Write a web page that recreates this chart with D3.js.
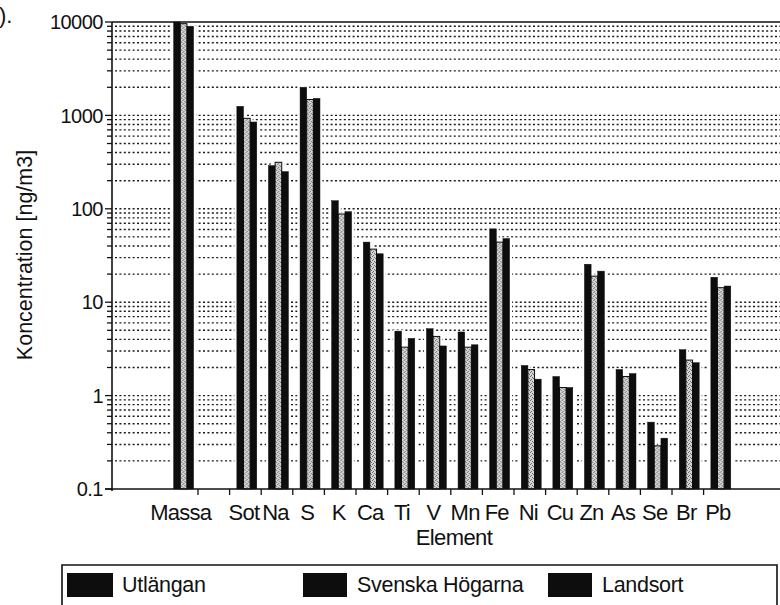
<!DOCTYPE html>
<html>
<head>
<meta charset="utf-8">
<script src="https://cdn.jsdelivr.net/npm/d3@7"></script>
<style>
  html, body { margin: 0; padding: 0; background: #fff; }
  svg { display: block; }
  text { font-family: "Liberation Sans", Arial, Helvetica, sans-serif; fill: #111; }
</style>
</head>
<body>
<svg id="chart" width="780" height="605"></svg>
<script>
// Categories along the x axis ("" is the empty slot between Massa and Sot)
const categories = ["Massa", "", "Sot", "Na", "S", "K", "Ca", "Ti", "V", "Mn", "Fe", "Ni", "Cu", "Zn", "As", "Se", "Br", "Pb"];
const seriesNames = ["Utlängan", "Svenska Högarna", "Landsort"];

// Concentrations in ng/m3 per station
const utlangan = [10000, null, 1250, 290, 2000, 122, 44, 4.9, 5.2, 4.8, 61, 2.1, 1.6, 25.5, 1.9, 0.52, 3.1, 18.5];
const hogarna  = [9600,  null, 930,  315, 1480, 88,  37, 3.3, 4.3, 3.3, 44, 1.9, 1.22, 19, 1.6, 0.29, 2.4, 14.3];
const landsort = [9000,  null, 850,  250, 1520, 93,  33, 4.1, 3.4, 3.5, 48, 1.5, 1.22, 21.5, 1.72, 0.35, 2.25, 14.9];

const yTickValues = [0.1, 1, 10, 100, 1000, 10000];
const yTickLabels = ["0.1", "1", "10", "100", "1000", "10000"];

const seriesValues = [utlangan, hogarna, landsort];

const svg = d3.select("#chart");

// Patterned fill for the middle series
const defs = svg.append("defs");
const pat = defs.append("pattern")
  .attr("id", "stipple").attr("patternUnits", "userSpaceOnUse")
  .attr("width", 4).attr("height", 4);
pat.append("rect").attr("width", 4).attr("height", 4).attr("fill", "#d6d6d6");
[[0, 0], [2, 1], [1, 3], [3, 2]].forEach(([px, py]) =>
  pat.append("rect").attr("x", px).attr("y", py).attr("width", 1).attr("height", 1).attr("fill", "#6a6a6a"));

const plot = { left: 112, right: 790, top: 22, bottom: 489 };

const y = d3.scaleLog().domain([0.1, 10000]).range([plot.bottom, plot.top]);
const x = d3.scaleBand().domain(d3.range(categories.length)).range([166.4, 735.2]).padding(0);
const bw = x.bandwidth();
const inner = d3.scaleBand().domain(d3.range(seriesNames.length))
  .range([0.23 * bw, 0.86 * bw]).padding(0);

// Dotted grid at every log tick
const gridVals = [];
for (let e = -1; e < 4; e++) {
  for (let m = 1; m <= 9; m++) gridVals.push(m * Math.pow(10, e));
}
svg.append("g").selectAll("line").data(gridVals.filter(v => v > 0.1)).join("line")
  .attr("x1", plot.left + 3).attr("x2", plot.right)
  .attr("y1", d => y(d)).attr("y2", d => y(d))
  .attr("stroke", "#1a1a1a").attr("stroke-width", 1.4)
  .attr("stroke-dasharray", "2 2.4");

// Y-axis tick marks
svg.append("g").selectAll("line").data(gridVals.concat([10000])).join("line")
  .attr("x1", d => yTickValues.includes(d) ? plot.left - 7 : plot.left - 5)
  .attr("x2", plot.left)
  .attr("y1", d => y(d)).attr("y2", d => y(d))
  .attr("stroke", "#111").attr("stroke-width", 1.3);

// Bars, with a white halo that interrupts the grid
const groups = svg.append("g").selectAll("g")
  .data(categories.map((c, i) => i)).join("g")
  .attr("transform", i => `translate(${x(i)},0)`);

seriesValues.forEach((vals, s) => {
  groups.filter(i => vals[i] != null).append("rect")
    .attr("x", i => inner(s) - 2.5)
    .attr("y", i => y(vals[i]) - 1)
    .attr("width", inner.bandwidth() + 5)
    .attr("height", i => plot.bottom - y(vals[i]) + 1)
    .attr("fill", "#fff");
});
seriesValues.forEach((vals, s) => {
  groups.filter(i => vals[i] != null).append("rect")
    .attr("x", i => inner(s))
    .attr("y", i => y(vals[i]))
    .attr("width", inner.bandwidth())
    .attr("height", i => plot.bottom - y(vals[i]))
    .attr("fill", s === 1 ? "url(#stipple)" : "#0d0d0d")
    .attr("stroke", "#0d0d0d")
    .attr("stroke-width", s === 1 ? 1 : 0.5);
});

// Frame: top edge, y axis, x axis
svg.append("line").attr("x1", plot.left).attr("x2", plot.right)
  .attr("y1", plot.top).attr("y2", plot.top).attr("stroke", "#111").attr("stroke-width", 1.6);
svg.append("line").attr("x1", plot.left).attr("x2", plot.left)
  .attr("y1", plot.top).attr("y2", plot.bottom + 2).attr("stroke", "#111").attr("stroke-width", 1.6);
svg.append("line").attr("x1", plot.left - 7).attr("x2", plot.right)
  .attr("y1", plot.bottom).attr("y2", plot.bottom).attr("stroke", "#111").attr("stroke-width", 1.6);

// X-axis tick marks at the left edge of each slot after Massa
svg.append("g").selectAll("line").data(d3.range(1, categories.length)).join("line")
  .attr("x1", i => x(i)).attr("x2", i => x(i))
  .attr("y1", plot.bottom).attr("y2", plot.bottom + 6)
  .attr("stroke", "#111").attr("stroke-width", 1.3);

// Y tick labels
svg.append("g").selectAll("text").data(yTickValues).join("text")
  .attr("x", plot.left - 9).attr("y", d => y(d))
  .attr("dy", "0.36em").attr("text-anchor", "end")
  .attr("font-size", 20).attr("letter-spacing", -0.5)
  .text((d, i) => yTickLabels[i]);

// Category labels
svg.append("g").selectAll("text").data(d3.range(categories.length)).join("text")
  .attr("x", i => x(i) + bw / 2 - 1.5).attr("y", 520)
  .attr("text-anchor", "middle").attr("font-size", 22).attr("letter-spacing", -0.8)
  .text(i => categories[i]);

// Axis titles
svg.append("text").attr("x", 454).attr("y", 545).attr("text-anchor", "middle")
  .attr("font-size", 22).attr("letter-spacing", -0.6).text("Element");
svg.append("text").attr("transform", "translate(32,255) rotate(-90)")
  .attr("text-anchor", "middle").attr("font-size", 21.5)
  .text("Koncentration [ng/m3]");

// Caption fragment at top-left
svg.append("text").attr("x", -1).attr("y", 23).attr("font-size", 22).text(").");

// Legend
svg.append("path")
  .attr("d", "M62,612 V565 H777 V612")
  .attr("fill", "none").attr("stroke", "#111").attr("stroke-width", 1.6);
const legendItems = [
  { sx: 67, sw: 46, tx: 122 },
  { sx: 303, sw: 44, tx: 357 },
  { sx: 548, sw: 44, tx: 602 }
];
legendItems.forEach((it, i) => {
  svg.append("rect").attr("x", it.sx).attr("y", 573).attr("width", it.sw).attr("height", 24)
    .attr("fill", "#0d0d0d");
  svg.append("text").attr("x", it.tx).attr("y", 592).attr("font-size", 21.5)
    .attr("letter-spacing", -0.3).text(seriesNames[i]);
});
</script>
</body>
</html>
